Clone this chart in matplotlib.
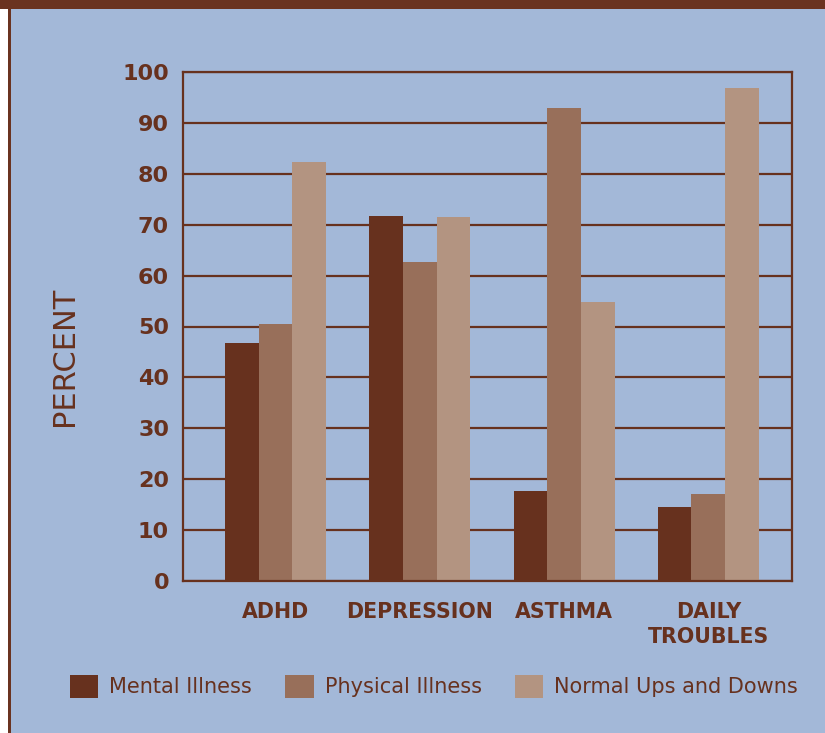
import matplotlib
matplotlib.use("Agg")
import matplotlib.pyplot as plt
import numpy as np
from matplotlib.patches import Rectangle

categories = ['ADHD', 'DEPRESSION', 'ASTHMA', 'DAILY\nTROUBLES']
series_names = ['Mental Illness', 'Physical Illness', 'Normal Ups and Downs']
mental = [46.8, 71.7, 17.7, 14.5]
physical = [50.5, 62.7, 93.0, 17.1]
normal = [82.4, 71.5, 54.8, 96.8]
y_ticks = [0, 10, 20, 30, 40, 50, 60, 70, 80, 90, 100]

BG = '#a3b8d8'
BROWN = '#67311e'
colors = ['#67311e', '#986f5a', '#b39481']

def main():
    fig = plt.figure(figsize=(8.25, 7.33), dpi=100, facecolor='white')

    # panel background + borders
    fig.patches.append(Rectangle((10 / 825, 0), 1, 1, transform=fig.transFigure,
                                 facecolor=BG, edgecolor='none', zorder=-10))
    fig.patches.append(Rectangle((8 / 825, 0), 3 / 825, 1, transform=fig.transFigure,
                                 facecolor='#6a3320', edgecolor='none', zorder=-9))
    fig.patches.append(Rectangle((0, 1 - 9 / 733), 1, 9 / 733, transform=fig.transFigure,
                                 facecolor='#6a3320', edgecolor='none', zorder=-9))

    ax = fig.add_axes([183 / 825, 1 - 581 / 733, 609 / 825, 509 / 733])
    ax.set_facecolor(BG)

    x = np.arange(len(categories))
    w = 0.2335
    for i, (vals, c, name) in enumerate(zip([mental, physical, normal], colors, series_names)):
        ax.bar(x + (i - 1) * w, vals, width=w, color=c, label=name, zorder=3)

    ax.set_xlim(-0.641, 3.58)
    ax.set_ylim(0, 100)
    ax.set_yticks(y_ticks)
    ax.set_xticks(x)
    ax.set_xticklabels(categories, linespacing=1.35)
    ax.yaxis.grid(True, color=BROWN, linewidth=1.6, zorder=1)
    ax.set_axisbelow(True)
    for s in ax.spines.values():
        s.set_color(BROWN)
        s.set_linewidth(1.6)
        s.set_zorder(4)

    ax.tick_params(axis='y', length=0, pad=10, labelsize=16, labelcolor=BROWN)
    ax.tick_params(axis='x', length=0, pad=15, labelsize=14.8, labelcolor=BROWN)
    for lab in ax.get_yticklabels() + ax.get_xticklabels():
        lab.set_fontweight('bold')

    ax.set_ylabel('PERCENT', fontsize=22, color=BROWN, va='center')
    ax.yaxis.set_label_coords(-0.194, 0.441)

    handles, labels = ax.get_legend_handles_labels()
    leg = fig.legend(handles, labels, ncol=3, loc='center',
                     bbox_to_anchor=(434 / 825, 1 - 686.5 / 733),
                     frameon=False, fontsize=15, handlelength=1.35, handleheight=1.3,
                     handletextpad=0.53, columnspacing=1.6, borderaxespad=0)
    for t in leg.get_texts():
        t.set_color(BROWN)

    fig.savefig('out.png', dpi=100, facecolor='white')

if __name__ == "__main__":
    main()
